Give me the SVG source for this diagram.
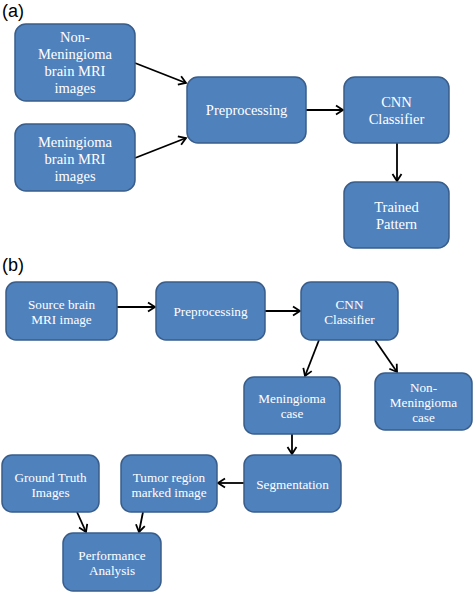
<svg xmlns="http://www.w3.org/2000/svg" width="474" height="593" viewBox="0 0 474 593">
<defs>
<marker id="arr" markerWidth="12" markerHeight="12" refX="9" refY="6" orient="auto" markerUnits="userSpaceOnUse">
<path d="M2,1.5 L9,6 L2,10.5" fill="none" stroke="#000" stroke-width="1.8"/>
</marker>
</defs>
<style>
.box{fill:#4F81BD;stroke:#385D8A;stroke-width:1.5}
.ta{font-family:"Liberation Serif","Times New Roman",serif;font-size:14.5px;fill:#fff;text-anchor:middle}
.tb{font-family:"Liberation Serif","Times New Roman",serif;font-size:13.2px;fill:#fff;text-anchor:middle}
.lbl{font-family:"Liberation Sans",Arial,sans-serif;font-size:18px;fill:#000}
.c{stroke:#000;stroke-width:1.8;fill:none;marker-end:url(#arr)}
</style>
<rect width="474" height="593" fill="#fff"/>
<text class="lbl" x="2" y="17">(a)</text>
<text class="lbl" x="2" y="271">(b)</text>
<g id="connectors">
<line class="c" x1="135" y1="63" x2="186" y2="83"/>
<line class="c" x1="135" y1="158" x2="186" y2="138"/>
<line class="c" x1="306" y1="110" x2="343" y2="110"/>
<line class="c" x1="397" y1="143" x2="397" y2="181"/>
<line class="c" x1="117" y1="307" x2="155" y2="307"/>
<line class="c" x1="265" y1="311" x2="300" y2="311"/>
<line class="c" x1="319" y1="340" x2="305" y2="376"/>
<line class="c" x1="375" y1="340" x2="397" y2="372"/>
<line class="c" x1="292" y1="434" x2="292" y2="454"/>
<line class="c" x1="244" y1="483" x2="218" y2="483"/>
<line class="c" x1="77" y1="512" x2="86" y2="532"/>
<line class="c" x1="143" y1="512" x2="139" y2="532"/>
</g>
<g id="a_nonmen"><rect class="box" x="15" y="24" width="120" height="77" rx="11"/>
<text class="ta" x="75" y="42">Non-</text><text class="ta" x="75" y="59">Meningioma</text><text class="ta" x="75" y="76">brain MRI</text><text class="ta" x="75" y="93">images</text></g>
<g id="a_men"><rect class="box" x="15" y="124" width="120" height="67" rx="11"/>
<text class="ta" x="75" y="146.5">Meningioma</text><text class="ta" x="75" y="163.5">brain MRI</text><text class="ta" x="75" y="180.5">images</text></g>
<g id="a_pre"><rect class="box" x="187" y="77" width="119" height="66" rx="11"/>
<text class="ta" x="246.5" y="115">Preprocessing</text></g>
<g id="a_cnn"><rect class="box" x="344" y="77" width="105" height="66" rx="11"/>
<text class="ta" x="396.5" y="107">CNN</text><text class="ta" x="396.5" y="124">Classifier</text></g>
<g id="a_trained"><rect class="box" x="344" y="182" width="105" height="66" rx="11"/>
<text class="ta" x="396.5" y="212">Trained</text><text class="ta" x="396.5" y="229">Pattern</text></g>
<g id="b_source"><rect class="box" x="6" y="282" width="111" height="58" rx="10"/>
<text class="tb" x="61.5" y="308.5">Source brain</text><text class="tb" x="61.5" y="323.5">MRI image</text></g>
<g id="b_pre"><rect class="box" x="156" y="282" width="109" height="58" rx="10"/>
<text class="tb" x="210.5" y="316">Preprocessing</text></g>
<g id="b_cnn"><rect class="box" x="301" y="282" width="97" height="58" rx="10"/>
<text class="tb" x="349.5" y="308.5">CNN</text><text class="tb" x="349.5" y="323.5">Classifier</text></g>
<g id="b_men"><rect class="box" x="244" y="377" width="96" height="57" rx="10"/>
<text class="tb" x="292" y="402.5">Meningioma</text><text class="tb" x="292" y="417.5">case</text></g>
<g id="b_nonmen"><rect class="box" x="375" y="373" width="97" height="57" rx="10"/>
<text class="tb" x="423.5" y="391.5">Non-</text><text class="tb" x="423.5" y="406.5">Meningioma</text><text class="tb" x="423.5" y="421.5">case</text></g>
<g id="b_seg"><rect class="box" x="244" y="455" width="97" height="57" rx="10"/>
<text class="tb" x="292.5" y="488.5">Segmentation</text></g>
<g id="b_tumor"><rect class="box" x="121" y="455" width="96" height="57" rx="10"/>
<text class="tb" x="169" y="481.5">Tumor region</text><text class="tb" x="169" y="496.5">marked image</text></g>
<g id="b_gt"><rect class="box" x="2" y="455" width="97" height="57" rx="10"/>
<text class="tb" x="50.5" y="481.5">Ground Truth</text><text class="tb" x="50.5" y="496.5">Images</text></g>
<g id="b_perf"><rect class="box" x="63" y="533" width="98" height="58" rx="10"/>
<text class="tb" x="112" y="559.5">Performance</text><text class="tb" x="112" y="574.5">Analysis</text></g>
</svg>
